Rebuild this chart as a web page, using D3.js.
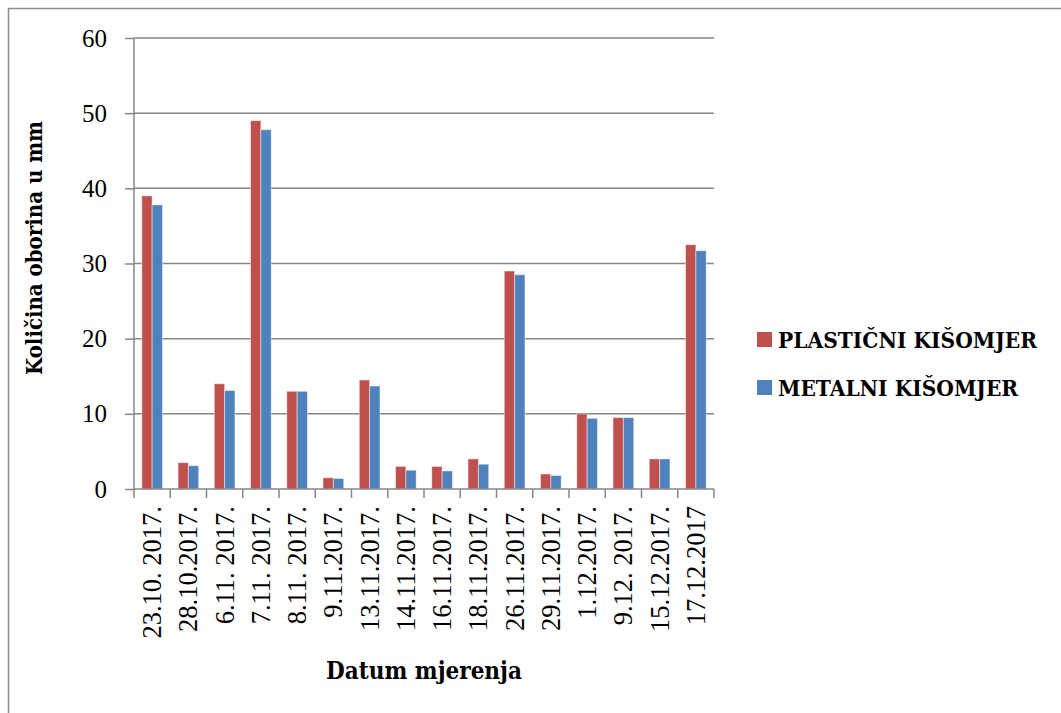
<!DOCTYPE html>
<html>
<head>
<meta charset="utf-8">
<script src="https://cdn.jsdelivr.net/npm/d3@7"></script>
<style>
  body { margin: 0; background: #fff; }
  svg { display: block; }
</style>
</head>
<body>
<svg id="chart"></svg>
<script>
var dates = ["23.10. 2017.", "28.10.2017.", "6.11. 2017.", "7.11. 2017.", "8.11. 2017.", "9.11.2017.",
  "13.11.2017.", "14.11.2017.", "16.11.2017.", "18.11.2017.", "26.11.2017.", "29.11.2017.",
  "1.12.2017.", "9.12. 2017.", "15.12.2017.", "17.12.2017"];
var plastic = [39, 3.5, 14, 49, 13, 1.5, 14.5, 3, 3, 4, 29, 2, 10, 9.5, 4, 32.5];
var metal = [37.8, 3.1, 13.1, 47.8, 13, 1.4, 13.7, 2.5, 2.4, 3.3, 28.5, 1.8, 9.4, 9.5, 4, 31.7];
var seriesNames = ["PLASTIČNI KIŠOMJER", "METALNI KIŠOMJER"];
var seriesColors = ["#C0504D", "#4F81BD"];
var yTicks = [0, 10, 20, 30, 40, 50, 60];

var width = 1061, height = 713;
var plot = {left: 134, right: 714, top: 38, bottom: 489};
var titleFont = "'DejaVu Serif Condensed', 'DejaVu Serif', serif";

var svg = d3.select("#chart")
  .attr("width", width)
  .attr("height", height);

// outer frame (cut off at right and bottom)
svg.append("rect")
  .attr("x", 8.5)
  .attr("y", 8.5)
  .attr("width", 1200)
  .attr("height", 900)
  .style("fill", "none")
  .style("stroke", "#8c8c8c")
  .style("stroke-width", 1.5);

var x = d3.scaleBand()
  .domain(dates)
  .range([plot.left, plot.right])
  .paddingInner(0.43)
  .paddingOuter(0.215);

var x0 = d3.scaleBand()
  .domain(dates)
  .range([plot.left, plot.right]);

var xs = d3.scaleBand()
  .domain([0, 1])
  .range([0, x.bandwidth()]);

var y = d3.scaleLinear()
  .domain([0, 60])
  .range([plot.bottom, plot.top]);

// gridlines
svg.append("g")
  .selectAll("line")
  .data(yTicks.slice(1))
  .join("line")
    .attr("x1", plot.left)
    .attr("x2", plot.right)
    .attr("y1", function (d) { return y(d); })
    .attr("y2", function (d) { return y(d); })
    .style("stroke", "#868686")
    .style("stroke-width", 1.5);

// bars
var series = [plastic, metal];
series.forEach(function (vals, si) {
  svg.append("g")
    .selectAll("rect")
    .data(vals)
    .join("rect")
      .attr("x", function (d, i) { return x(dates[i]) + xs(si); })
      .attr("y", function (d) { return y(d); })
      .attr("width", xs.bandwidth())
      .attr("height", function (d) { return plot.bottom - y(d); })
      .style("fill", seriesColors[si])
      .style("stroke", "#fff")
      .style("stroke-opacity", 0.45)
      .style("stroke-width", 1);
});

// y axis
var yAxis = svg.append("g")
  .attr("transform", "translate(" + plot.left + ",0)")
  .call(d3.axisLeft(y).tickValues(yTicks).tickSize(9).tickPadding(18));
yAxis.selectAll("path, line").style("stroke", "#868686").style("stroke-width", 1.5);
yAxis.select(".domain").attr("d", "M0," + plot.top + "V" + plot.bottom);
yAxis.selectAll("text")
  .style("font-family", "'Liberation Serif', serif")
  .style("font-size", "25px")
  .style("fill", "#000");

// x axis
var xAxis = svg.append("g")
  .attr("transform", "translate(0," + plot.bottom + ")");
xAxis.append("line")
  .attr("x1", plot.left)
  .attr("x2", plot.right)
  .style("stroke", "#868686")
  .style("stroke-width", 1.5);
xAxis.selectAll("line.tick")
  .data(dates.concat(["end"]))
  .join("line")
    .attr("class", "tick")
    .attr("x1", function (d, i) { return i < dates.length ? x0(d) : plot.right; })
    .attr("x2", function (d, i) { return i < dates.length ? x0(d) : plot.right; })
    .attr("y1", 0)
    .attr("y2", 9)
    .style("stroke", "#868686")
    .style("stroke-width", 1.5);
xAxis.selectAll("text")
  .data(dates)
  .join("text")
    .attr("transform", function (d) {
      return "translate(" + (x0(d) + x0.bandwidth() / 2 + 9) + ",17) rotate(-90)";
    })
    .attr("text-anchor", "end")
    .style("font-family", "'Liberation Serif', serif")
    .style("font-size", "26.5px")
    .style("fill", "#000")
    .text(function (d) { return d; });

// axis titles
svg.append("text")
  .attr("x", (plot.left + plot.right) / 2)
  .attr("y", 679)
  .attr("text-anchor", "middle")
  .style("font-family", titleFont)
  .style("font-weight", "bold")
  .style("font-size", "24px")
  .text("Datum mjerenja");

svg.append("text")
  .attr("transform", "translate(42,248) rotate(-90)")
  .attr("text-anchor", "middle")
  .style("font-family", titleFont)
  .style("font-weight", "bold")
  .style("font-size", "22px")
  .text("Količina oborina u mm");

// legend
var legend = svg.append("g")
  .attr("transform", "translate(757,332)");
var items = legend.selectAll("g")
  .data(seriesNames)
  .join("g")
    .attr("transform", function (d, i) { return "translate(0," + (i * 48) + ")"; });
items.append("rect")
  .attr("width", 15)
  .attr("height", 15)
  .style("fill", function (d, i) { return seriesColors[i]; });
items.append("text")
  .attr("x", 21)
  .attr("y", 16)
  .style("font-family", titleFont)
  .style("font-weight", "bold")
  .style("font-size", "22.5px")
  .text(function (d) { return d; });
</script>
</body>
</html>
